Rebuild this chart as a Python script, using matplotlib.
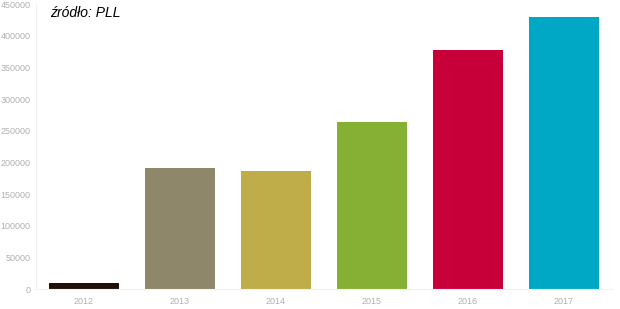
import matplotlib.pyplot as plt

years = ["2012", "2013", "2014", "2015", "2016", "2017"]
values = [10000, 191000, 186000, 264000, 377000, 430000]
colors = ["#1e1008", "#8f876a", "#bfad4a", "#86b034", "#c8003a", "#00a8c6"]
yticks = [0, 50000, 100000, 150000, 200000, 250000, 300000, 350000, 400000, 450000]


def main():
    plt.rcParams["font.family"] = ["Liberation Sans", "DejaVu Sans"]
    fig = plt.figure(figsize=(6.2, 3.09), dpi=100)
    ax = fig.add_axes([0.058, 0.0647, 0.929, 0.922])

    x_pos = list(range(len(years)))
    ax.bar(x_pos, values, width=0.72, color=colors)

    ax.set_xlim(-0.5, len(years) - 0.5)
    ax.set_ylim(0, 450000)
    ax.set_xticks(x_pos)
    ax.set_xticklabels(years)
    ax.set_yticks(yticks)
    ax.set_yticklabels([str(v) for v in yticks])
    ax.tick_params(axis="both", length=0, labelsize=6.5, labelcolor="#b0b0b0")
    ax.tick_params(axis="x", pad=6)
    ax.tick_params(axis="y", pad=4)

    for side in ["top", "right"]:
        ax.spines[side].set_visible(False)
    ax.spines["left"].set_color("#f2f2f2")
    ax.spines["bottom"].set_color("#f2f2f2")

    fig.text(0.081, 0.958, "źródło: PLL", fontsize=10, style="italic",
             color="black", va="center", ha="left")

    fig.savefig("out.png", dpi=100)


if __name__ == "__main__":
    main()
